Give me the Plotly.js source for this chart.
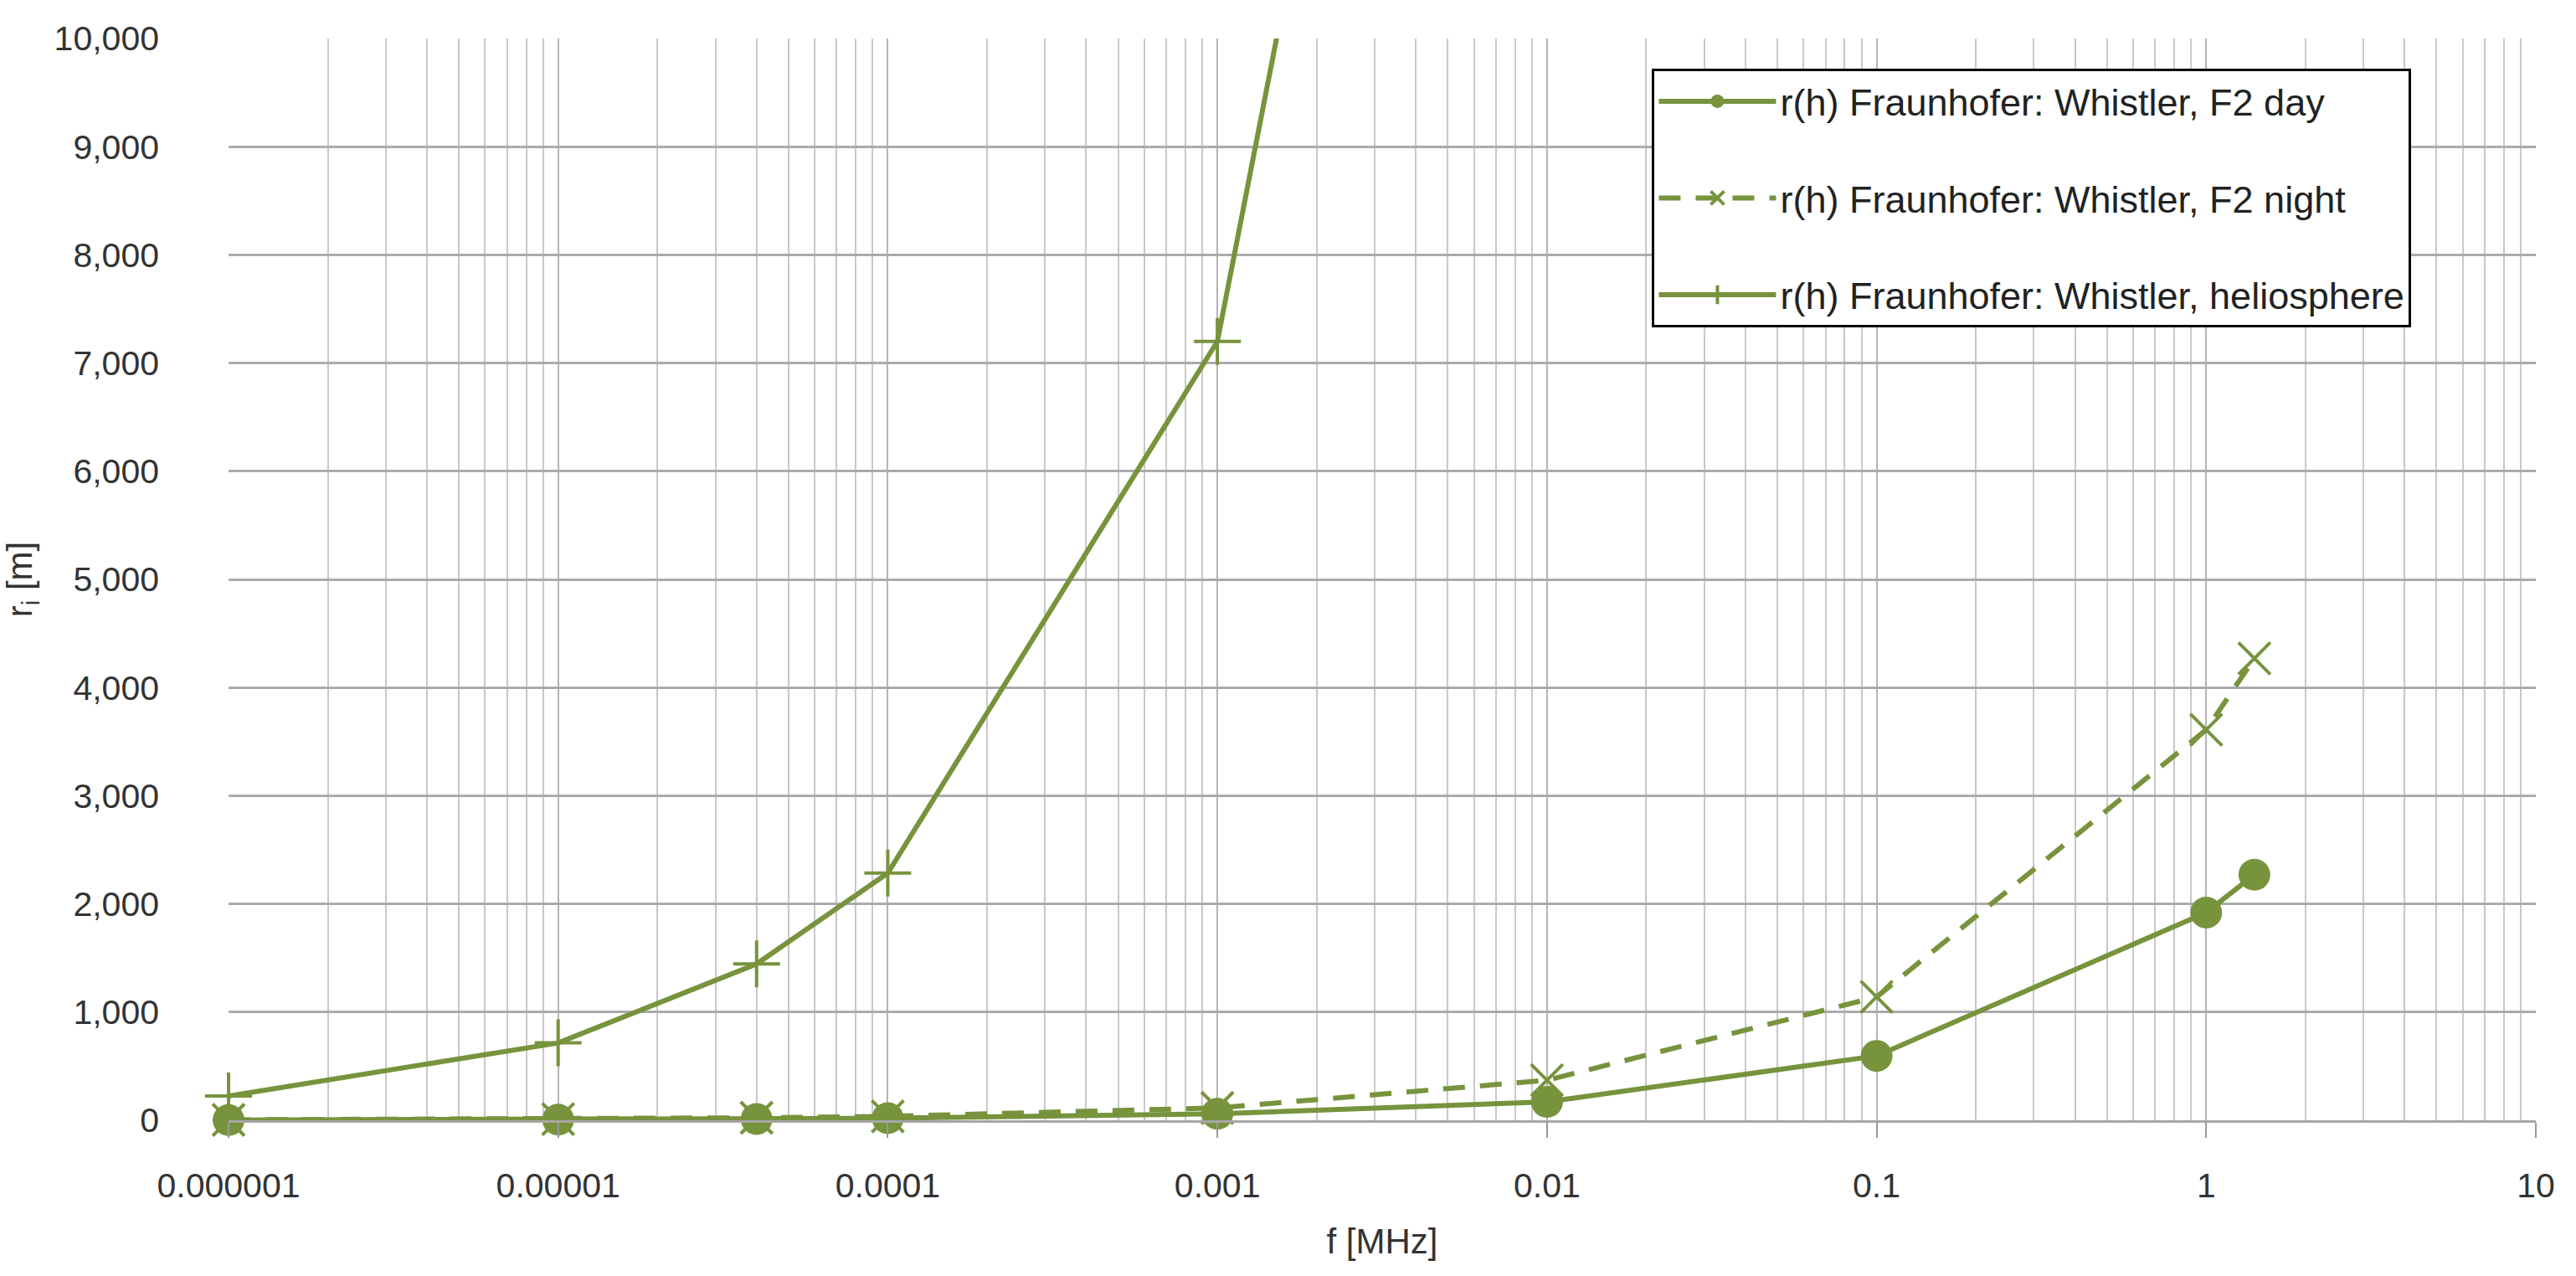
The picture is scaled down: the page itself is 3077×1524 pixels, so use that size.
<!DOCTYPE html>
<html>
<head>
<meta charset="utf-8">
<script src="https://cdn.plot.ly/plotly-3.0.1.min.js"></script>
<style>
  html, body { margin: 0; padding: 0; background: #fff; }
  #chart { width: 3077px; height: 1524px; }
</style>
</head>
<body>
<div id="chart"></div>
<script>
// frequencies f [MHz]
const freqs = [0.000001, 0.00001, 0.00004, 0.0001, 0.001, 0.01, 0.1, 1, 1.4];
const freqsHelio = [0.000001, 0.00001, 0.00004, 0.0001, 0.001, 0.01];

// r_i [m]
const rDay = [2, 6, 12, 19, 60, 170, 595, 1920, 2270];
const rNight = [4, 11, 23, 36, 114, 370, 1140, 3610, 4270];
const rHelio = [225, 715, 1445, 2285, 7200, 22800];

const names = [
  "r(h) Fraunhofer: Whistler, F2 day",
  "r(h) Fraunhofer: Whistler, F2 night",
  "r(h) Fraunhofer: Whistler, heliosphere"
];

const xTickVals = [0.000001, 0.00001, 0.0001, 0.001, 0.01, 0.1, 1, 10];
const xTickText = ["0.000001", "0.00001", "0.0001", "0.001", "0.01", "0.1", "1", "10"];

// minor grid at 2..9 of each decade
const minorVals = [];
for (let e = -6; e < 1; e++) {
  for (let m = 2; m <= 9; m++) minorVals.push(m * Math.pow(10, e));
}

const green = "#77933c";
const font = "Liberation Sans Narrow, Arial Narrow, Liberation Sans, sans-serif";

const traces = [
  {
    x: freqs, y: rDay, name: names[0], type: "scatter", mode: "lines+markers",
    line: { color: green, width: 6 },
    marker: { symbol: "circle", size: 38, color: green },
    cliponaxis: false, legendgroup: "a"
  },
  {
    x: freqs, y: rNight, name: names[1], type: "scatter", mode: "lines+markers",
    line: { color: green, width: 6, dash: "26px,18px" },
    marker: { symbol: "x-thin-open", size: 38, color: green, line: { color: green, width: 4 } },
    cliponaxis: false, legendgroup: "b"
  },
  {
    x: freqsHelio, y: rHelio, name: names[2], type: "scatter", mode: "lines+markers",
    line: { color: green, width: 6 },
    marker: { symbol: "cross-thin-open", size: 40, color: green, line: { color: green, width: 4 } },
    cliponaxis: false, legendgroup: "c"
  }
];

const layout = {
  width: 3077,
  height: 1524,
  margin: { l: 273, r: 48, t: 46, b: 186 },
  paper_bgcolor: "#fff",
  plot_bgcolor: "#fff",
  font: { family: font, size: 41, color: "#333" },
  showlegend: true,
  legend: {
    x: 0.617, y: 0.972, xanchor: "left", yanchor: "top",
    bgcolor: "#fff", bordercolor: "#000", borderwidth: 3,
    font: { family: font, size: 45, color: "#222" },
    tracegroupgap: 54, itemwidth: 140, traceorder: "grouped",
    valign: "middle"
  },
  xaxis: {
    type: "log",
    range: [-6, 1],
    tickmode: "array",
    tickvals: xTickVals,
    ticktext: xTickText,
    ticks: "outside", ticklen: 18, tickwidth: 2, tickcolor: "#999",
    showgrid: true, gridcolor: "#b4b4b4", gridwidth: 2,
    minor: { tickmode: "array", tickvals: minorVals, showgrid: true, gridcolor: "#c8c8c8", gridwidth: 2, ticks: "" },
    showline: true, linecolor: "#a6a6a6", linewidth: 3,
    zeroline: false,
    ticklabelstandoff: 22,
    title: { text: "f [MHz]", font: { family: font, size: 42, color: "#333" }, standoff: 30 }
  },
  yaxis: {
    range: [0, 10000],
    dtick: 1000,
    tickformat: ",d",
    ticks: "",
    showgrid: true, gridcolor: "#ababab", gridwidth: 3,
    zeroline: false,
    showline: false,
    ticklabelstandoff: 82,
    title: { text: "r<sub>i</sub> [m]", font: { family: font, size: 42, color: "#333" }, standoff: 44 }
  }
};

Plotly.newPlot("chart", traces, layout, { displayModeBar: false, responsive: false });
</script>
</body>
</html>
